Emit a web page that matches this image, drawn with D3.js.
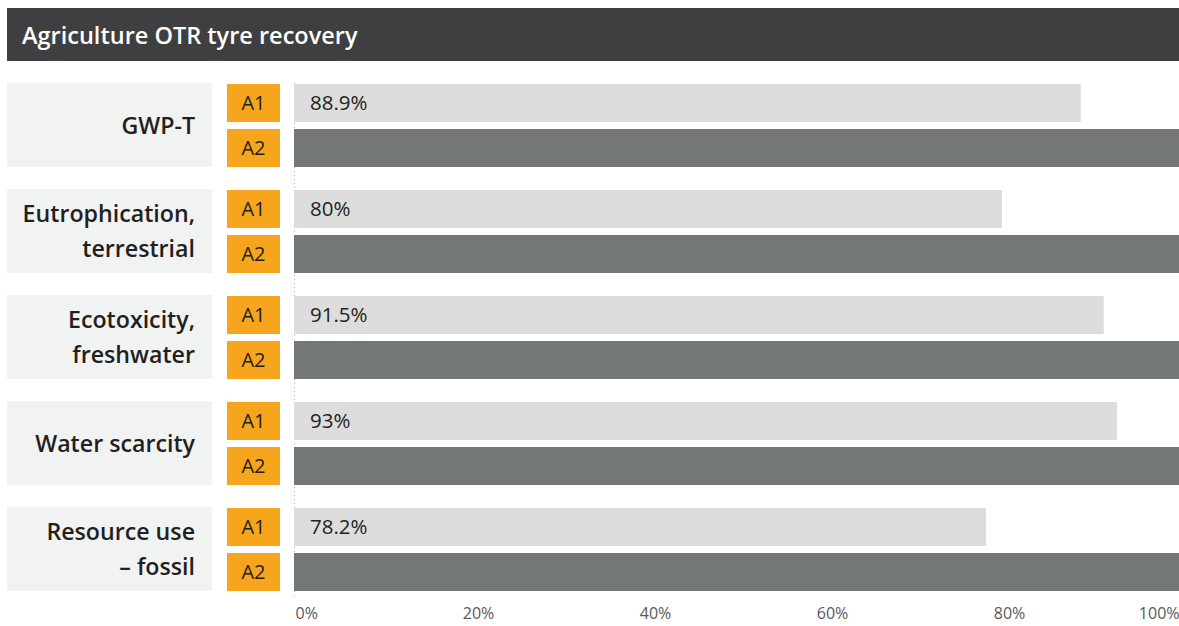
<!DOCTYPE html>
<html>
<head>
<meta charset="utf-8">
<script src="https://cdn.jsdelivr.net/npm/d3@7"></script>
<style>
  html, body { margin: 0; padding: 0; background: #ffffff; }
  svg { display: block; font-family: "Open Sans", "Noto Sans", sans-serif; }
</style>
</head>
<body>
<svg id="chart" width="1179" height="626"></svg>
<script>
// Impact categories (label lines) and scenario results
const categories = [
  ["GWP-T"],
  ["Eutrophication,", "terrestrial"],
  ["Ecotoxicity,", "freshwater"],
  ["Water scarcity"],
  ["Resource use", "\u2013 fossil"]
];
const scenarios = ["A1", "A2"];
const valuesA1 = [88.9, 80, 91.5, 93, 78.2];
const valuesA2 = [100, 100, 100, 100, 100];
const tickValues = [0, 20, 40, 60, 80, 100];
const title = "Agriculture OTR tyre recovery";

const svg = d3.select("#chart");

// Header bar
svg.append("rect").attr("x", 7).attr("y", 8).attr("width", 1172).attr("height", 53).attr("fill", "#3f3f41");
svg.append("text").attr("x", 22).attr("y", 44).attr("fill", "#ffffff")
  .attr("font-size", 23.5).attr("font-weight", 600).text(title);

// Scales
const x = d3.scaleLinear().domain([0, 100]).range([294, 1179]);
const yGroup = d3.scaleBand().domain(d3.range(categories.length)).range([83, 591]).paddingInner(22 / 106).paddingOuter(0);
const groupH = yGroup.bandwidth();
const yBar = d3.scaleBand().domain(scenarios).range([1, groupH]).paddingInner(7 / 45).paddingOuter(0);

// Dotted baseline
svg.append("line").attr("x1", x(0) + 0.5).attr("x2", x(0) + 0.5)
  .attr("y1", yGroup(0)).attr("y2", 598)
  .attr("stroke", "#b5b5b5").attr("stroke-width", 1).attr("stroke-dasharray", "1,3");

const groups = svg.selectAll("g.group").data(categories).join("g")
  .attr("class", "group")
  .attr("transform", (d, i) => `translate(0,${yGroup(i)})`);

// Category label panel
groups.append("rect").attr("x", 7).attr("y", 0).attr("width", 205).attr("height", groupH).attr("fill", "#f1f2f2");
groups.each(function(lines) {
  const g = d3.select(this);
  const lh = 35;
  const startY = groupH / 2 - (lines.length - 1) * lh / 2 + 8.5;
  lines.forEach((t, k) => {
    g.append("text").attr("x", 195).attr("y", startY + k * lh)
      .attr("text-anchor", "end").attr("font-size", 23.2).attr("font-weight", 600)
      .attr("fill", "#231f20").text(t);
  });
});

// Scenario badges and bars
scenarios.forEach((s, si) => {
  const vals = si === 0 ? valuesA1 : valuesA2;
  groups.append("rect").attr("x", 227).attr("y", yBar(s)).attr("width", 53).attr("height", yBar.bandwidth())
    .attr("fill", "#f7a51c");
  groups.append("text").attr("x", 253.5).attr("y", yBar(s) + yBar.bandwidth() / 2 + 7)
    .attr("text-anchor", "middle").attr("font-size", 20).attr("fill", "#231f20").text(s);
  groups.append("rect")
    .attr("x", x(0)).attr("y", yBar(s))
    .attr("width", (d, i) => x(vals[i]) - x(0)).attr("height", yBar.bandwidth())
    .attr("fill", si === 0 ? "#dddddd" : "#737777");
});

// Value labels on A1 bars
groups.append("text").attr("x", x(0) + 16).attr("y", yBar("A1") + yBar.bandwidth() / 2 + 7)
  .attr("font-size", 20.5).attr("fill", "#231f20")
  .text((d, i) => d3.format("")(valuesA1[i]) + "%");

// Axis
const axis = svg.append("g").attr("transform", "translate(0,619)")
  .call(d3.axisBottom(x).tickValues(tickValues).tickFormat(d => d + "%").tickSize(0));
axis.select(".domain").remove();
axis.selectAll("text")
  .attr("y", 0).attr("dy", 0)
  .attr("font-size", 16).attr("font-family", "\"Open Sans\", sans-serif").attr("fill", "#58595b")
  .attr("text-anchor", d => d === 0 ? "start" : d === 100 ? "end" : "middle")
  .attr("dx", d => d === 0 ? 1 : d === 100 ? 0 : 7);
</script>
</body>
</html>
